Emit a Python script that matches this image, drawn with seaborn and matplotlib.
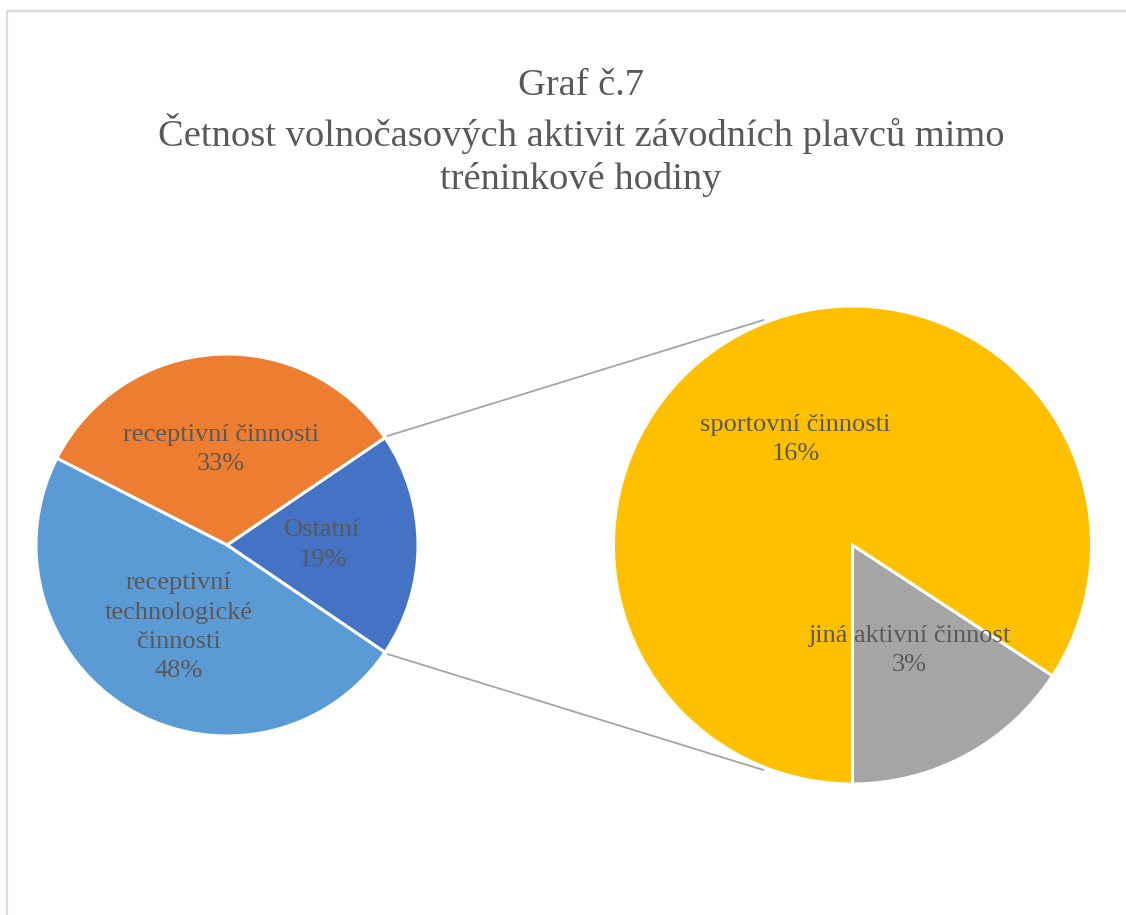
import numpy as np
import matplotlib
matplotlib.use("Agg")
import matplotlib.pyplot as plt
from matplotlib.patches import Rectangle
import seaborn as sns

sns.set_theme(style="white")
plt.rcParams['font.family'] = ['Liberation Serif', 'DejaVu Serif']

# ---- data ----
main_labels = ["Ostatní", "receptivní činnosti", "receptivní\ntechnologické\nčinnosti"]
main_values = [19, 33, 48]
main_colors = ["#4472C4", "#ED7D31", "#5B9BD5"]

sub_labels = ["jiná aktivní činnost", "sportovní činnosti"]
sub_values = [3, 16]
sub_colors = ["#A5A5A5", "#FFC000"]

title_text = "Graf č.7\nČetnost volnočasových aktivit závodních plavců mimo\ntréninkové hodiny"

# ---- layout (pixel space, y up) ----
W, H = 1126, 915
fig = plt.figure(figsize=(W / 100, H / 100), dpi=100)
ax = fig.add_axes([0, 0, 1, 1])
ax.set_xlim(0, W)
ax.set_ylim(0, H)
ax.set_aspect("equal")
ax.axis("off")

cL = (227, H - 545)
rL = 191
cR = (852.5, H - 545)
rR = 239

text_color = "#595959"
total = sum(main_values)
lab_fs = 19
lab_ls = 1.42

# main pie: "Ostatní" centred on the right
start_main = -main_values[0] / total * 360 / 2
m_texts = [f"{l}\n{v}%" for l, v in zip(main_labels, main_values)]
wedges_m, texts_m = ax.pie(main_values, colors=main_colors, startangle=start_main,
                           counterclock=True, center=cL, radius=rL,
                           labels=m_texts, labeldistance=0.5,
                           wedgeprops=dict(edgecolor="white", linewidth=2.2),
                           textprops=dict(color=text_color, fontsize=lab_fs))
for t in texts_m:
    t.set_ha("center")
    t.set_va("center")
    t.set_linespacing(lab_ls)

s_texts = [f"{l}\n{v}%" for l, v in zip(sub_labels, sub_values)]
wedges_s, texts_s = ax.pie(sub_values, colors=sub_colors, startangle=-90,
                           counterclock=True, center=cR, radius=rR,
                           labels=s_texts, labeldistance=0.5,
                           wedgeprops=dict(edgecolor="white", linewidth=2.2),
                           textprops=dict(color=text_color, fontsize=lab_fs))
for t in texts_s:
    t.set_ha("center")
    t.set_va("center")
    t.set_linespacing(lab_ls)

ax.set_xlim(0, W)
ax.set_ylim(0, H)

# connector lines from the "Ostatní" wedge edges to the secondary pie
w0 = wedges_m[0]
for ang_l, ang_r in [(w0.theta2, 111.6), (w0.theta1, -111.6)]:
    p1 = (cL[0] + (rL + 3) * np.cos(np.radians(ang_l)), cL[1] + (rL + 3) * np.sin(np.radians(ang_l)))
    p2 = (cR[0] + (rR + 3) * np.cos(np.radians(ang_r)), cR[1] + (rR + 3) * np.sin(np.radians(ang_r)))
    ax.plot([p1[0], p2[0]], [p1[1], p2[1]], color="#A5A5A5", lw=1.3, zorder=0.5)

# chart border (cropped at right/bottom)
fig.patches.append(Rectangle((7 / W, -0.05), 1.2, (H - 11) / H + 0.05,
                             transform=fig.transFigure, fill=False,
                             edgecolor="#D9D9D9", linewidth=1.6))

fig.text(581 / W, 1 - 133 / H, title_text, ha="center", va="center",
         fontsize=27.7, color=text_color, linespacing=1.3)

fig.savefig("out.png", dpi=100)
